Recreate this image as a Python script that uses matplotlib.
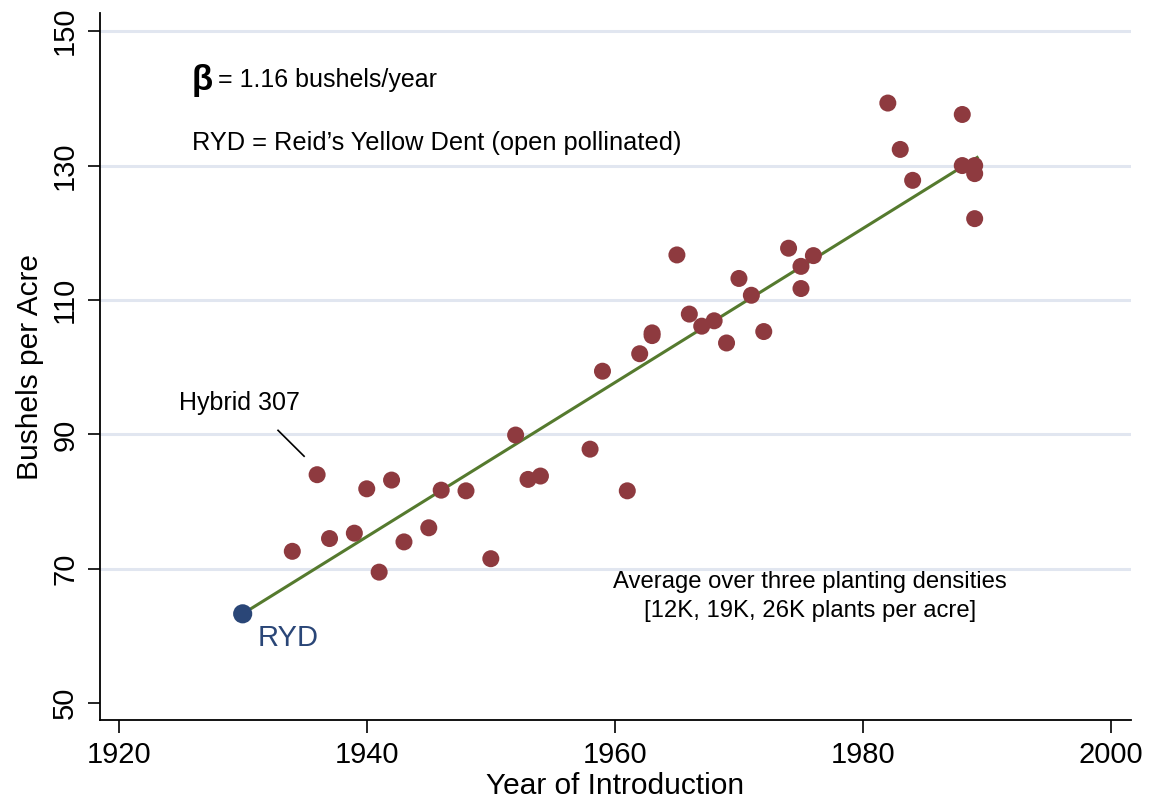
import matplotlib
matplotlib.use("Agg")
import matplotlib.pyplot as plt

plt.rcParams['font.family'] = ['Liberation Sans', 'DejaVu Sans']

# Data
years = [1934, 1936, 1937, 1939, 1940, 1941, 1942, 1943, 1945, 1946, 1948, 1950,
         1952, 1953, 1954, 1958, 1959, 1961, 1962, 1963, 1963, 1965, 1966, 1967,
         1968, 1969, 1970, 1971, 1972, 1974, 1975, 1975, 1976, 1982, 1983, 1984,
         1988, 1988, 1989, 1989, 1989]
bushels = [72.6, 84.0, 74.5, 75.3, 81.9, 69.5, 83.2, 74.0, 76.1, 81.7, 81.6, 71.5,
           89.9, 83.3, 83.8, 87.8, 99.4, 81.6, 102.0, 104.7, 105.1, 116.7, 107.9, 106.1,
           106.9, 103.6, 113.2, 110.7, 105.3, 117.7, 115.0, 111.7, 116.6, 139.3, 132.4, 127.8,
           137.6, 130.0, 130.0, 128.8, 122.1]
ryd_year = [1930]
ryd_value = [63.3]
fit_years = [1930, 1989.2]
fit_values = [63.3, 131.2]

xticks = [1920, 1940, 1960, 1980, 2000]
yticks = [50, 70, 90, 110, 130, 150]

fig = plt.figure(figsize=(11.52, 8.09), dpi=100)
ax = fig.add_axes([100/1152, 1-720/809, 1031/1152, 707/809])
ax.set_xlim(1918.5, 2001.6)
ax.set_ylim(47.5, 152.7)

for yv in yticks[1:]:
    ax.axhline(yv, color='#e1e6f0', lw=2.2, zorder=0)

ax.plot(fit_years, fit_values, color='#557a2e', lw=2.2, zorder=3)
ax.scatter(years, bushels, s=150, color='#8e3a3f', edgecolors='none', zorder=4)
ax.scatter(ryd_year, ryd_value, s=190, color='#2a4677', edgecolors='none', zorder=5)

ax.spines['top'].set_visible(False)
ax.spines['right'].set_visible(False)
for s in ['left', 'bottom']:
    ax.spines[s].set_linewidth(1.3)

ax.set_xticks(xticks)
ax.set_yticks(yticks)
ax.set_yticklabels([str(v) for v in yticks], rotation=90, va='center')
ax.tick_params(axis='both', direction='out', length=9, width=1.2, labelsize=21, pad=6)

ax.set_xlabel('Year of Introduction', fontsize=21.5, labelpad=2)
ax.set_ylabel('Bushels per Acre', fontsize=21.5, labelpad=5)

ax.text(1925.9, 142.7, '\u03b2', fontsize=25, fontweight='bold', va='center', ha='left')
ax.text(1928.0, 142.7, '= 1.16 bushels/year', fontsize=18, va='center', ha='left')
ax.text(1925.9, 133.3, 'RYD = Reid\u2019s Yellow Dent (open pollinated)', fontsize=18.3,
        va='center', ha='left')
ax.text(1924.9, 94.6, 'Hybrid 307', fontsize=18, va='center', ha='left')
ax.plot([1932.85, 1934.95], [90.6, 86.75], color='black', lw=1.2)
ax.text(1975.7, 68.0, 'Average over three planting densities', fontsize=17.2,
        va='center', ha='center')
ax.text(1975.7, 63.7, '[12K, 19K, 26K plants per acre]', fontsize=17.2,
        va='center', ha='center')
ax.text(1931.2, 59.7, 'RYD', fontsize=21, color='#2a4677', va='center', ha='left')

fig.savefig('out.png', dpi=100)
